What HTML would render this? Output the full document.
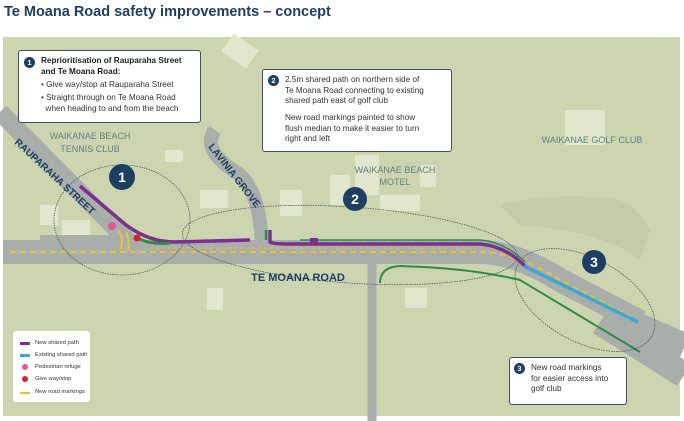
<!DOCTYPE html>
<html><head><style>
body{margin:0;width:684px;height:421px;background:#fff;overflow:hidden;font-family:"Liberation Sans",sans-serif}
.t{position:absolute;left:4px;top:4px;font-size:14.5px;font-weight:bold;color:#1d3f63}
svg{position:absolute;left:0;top:0}
.box{position:absolute;background:#fff;border:1px solid #3f5060;border-radius:3px;font-size:8.2px;color:#333;line-height:10.5px;box-sizing:border-box}
.n{display:inline-block;width:11px;height:11px;border-radius:50%;background:#1d3f63;color:#fff;font-weight:bold;font-size:7.5px;text-align:center;line-height:11px;position:absolute}
.lg{position:absolute;left:13px;top:331px;width:77px;height:71px;background:#fff;border-radius:3px;font-size:5.8px;color:#333}
.lg div{position:absolute;left:22px;white-space:nowrap;line-height:7px}
.lg span{position:absolute;left:-15px}
</style></head><body>
<div class="t">Te Moana Road safety improvements – concept</div>
<svg width="684" height="421" viewBox="0 0 684 421">
<rect x="3" y="37" width="677" height="379" fill="#cdd5b0"/>
<g fill="#e2e6cc">
<rect x="225" y="40" width="30" height="22" transform="rotate(35 240 51)"/>
<rect x="165" y="150" width="18" height="12"/>
<rect x="40" y="205" width="18" height="20"/>
<rect x="62" y="220" width="28" height="16"/>
<rect x="200" y="190" width="28" height="18"/>
<rect x="280" y="190" width="22" height="26"/>
<rect x="330" y="175" width="20" height="30"/>
<rect x="355" y="155" width="24" height="40"/>
<rect x="380" y="195" width="40" height="16"/>
<rect x="420" y="165" width="16" height="22"/>
<rect x="207" y="288" width="16" height="22"/>
<rect x="405" y="288" width="22" height="20"/>
<rect x="565" y="110" width="40" height="35"/>
</g>
<path d="M500,205 Q560,190 620,200 Q640,210 650,230 L640,260 Q600,230 520,225 Z" fill="#c3cba8"/>
<g fill="none" stroke="#a9aeab">
<path d="M0,112 L135,248" stroke-width="18"/>
<path d="M215,130 Q200,150 240,175 Q262,195 262,255" stroke-width="14"/>
<path d="M372,255 L372,421" stroke-width="9"/>
<path d="M3,252 L480,252 Q515,252 560,280 L640,322" stroke-width="24"/>
<path d="M620,320 L684,348" stroke-width="30"/>
<path d="M600,322 L684,375" stroke-width="26"/>
<path d="M40,238 L130,238" stroke-width="6"/>
</g>
<path d="M10,252 L480,252 Q515,252 560,280 L630,316" fill="none" stroke="#e8c23a" stroke-width="2" stroke-dasharray="6,4"/>
<path d="M150,248 L480,248" fill="none" stroke="#e8c23a" stroke-width="1.2" stroke-dasharray="3,3"/>
<path d="M80,186 L120,220 Q145,242 175,242 L250,240" fill="none" stroke="#7b2f8e" stroke-width="3.5"/>
<path d="M138,238 Q150,245 170,243" fill="none" stroke="#2e8b4a" stroke-width="3"/>
<path d="M270,230 L270,242 Q272,244 290,244 L480,244 Q505,246 525,266" fill="none" stroke="#7b2f8e" stroke-width="3.5"/>
<path d="M266,230 L266,240" fill="none" stroke="#2e8b4a" stroke-width="2.5"/>
<path d="M300,240 L480,240 Q505,242 525,262" fill="none" stroke="#2e8b4a" stroke-width="1.5"/>
<rect x="310" y="238" width="8" height="7" fill="#7b2f8e"/>
<path d="M524,266 L638,322" stroke="#3aa8d8" stroke-width="3.5"/>
<path d="M380,283 Q380,267 400,266 Q470,268 520,280 L640,352" fill="none" stroke="#2e8b4a" stroke-width="2"/>
<circle cx="112" cy="226" r="4" fill="#e4569e"/>
<circle cx="137" cy="238" r="3.5" fill="#d3232b"/>
<path d="M118,230 Q125,240 120,250 M126,232 Q130,240 128,250" stroke="#e8c23a" stroke-width="2" fill="none"/>
<g fill="none" stroke="#4a5a66" stroke-width="0.8" stroke-dasharray="1.5,1">
<ellipse cx="122" cy="220" rx="68" ry="55"/>
<ellipse cx="350" cy="245" rx="168" ry="38" transform="rotate(4 350 245)"/>
<ellipse cx="585" cy="300" rx="76" ry="42" transform="rotate(28 585 300)"/>
</g>
<g font-weight="bold" fill="#fff" text-anchor="middle" font-size="14">
<circle cx="122" cy="177" r="13" fill="#1d3f63"/><text x="122" y="182">1</text>
<circle cx="355" cy="199" r="12" fill="#1d3f63"/><text x="355" y="204">2</text>
<circle cx="594" cy="262" r="12" fill="#1d3f63"/><text x="594" y="267">3</text>
</g>
<g fill="#5f7f8a" font-size="9" text-anchor="middle">
<text x="90" y="139">WAIKANAE BEACH</text><text x="90" y="152">TENNIS CLUB</text>
<text x="395" y="173">WAIKANAE BEACH</text><text x="395" y="185">MOTEL</text>
<text x="592" y="143">WAIKANAE GOLF CLUB</text>
</g>
<text font-size="10" font-weight="bold" fill="#1d3f63" transform="translate(14,143) rotate(43)">RAUPARAHA STREET</text>
<text font-size="10" font-weight="bold" fill="#1d3f63" transform="translate(208,147) rotate(52)">LAVINIA GROVE</text>
<text x="298" y="281" font-size="11" font-weight="bold" fill="#1d3f63" text-anchor="middle">TE MOANA ROAD</text>
</svg>

<div class="box" style="left:18px;top:50px;width:183px;height:73px">
<span class="n" style="left:5px;top:6px">1</span>
<div style="position:absolute;left:22px;top:5px;font-weight:bold;color:#222">Reprioritisation of Rauparaha Street<br>and Te Moana Road:</div>
<div style="position:absolute;left:22px;top:29px">• Give way/stop at Rauparaha Street</div>
<div style="position:absolute;left:22px;top:42px">• Straight through on Te Moana Road<br>&nbsp;&nbsp;when heading to and from the beach</div>
</div>

<div class="box" style="left:262px;top:69px;width:190px;height:83px">
<span class="n" style="left:5px;top:5px">2</span>
<div style="position:absolute;left:22px;top:5px">2.5m shared path on northern side of<br>Te Moana Road connecting to existing<br>shared path east of golf club</div>
<div style="position:absolute;left:22px;top:43px">New road markings painted to show<br>flush median to make it easier to turn<br>right and left</div>
</div>

<div class="box" style="left:509px;top:357px;width:118px;height:48px">
<span class="n" style="left:4px;top:5px">3</span>
<div style="position:absolute;left:21px;top:5px">New road markings<br>for easier access into<br>golf club</div>
</div>

<div class="lg">
<div style="top:9px"><span style="top:2px;width:10px;height:3px;background:#7b2f8e"></span>New shared path</div>
<div style="top:21px"><span style="top:2px;width:10px;height:3px;background:#3aa8d8"></span>Existing shared path</div>
<div style="top:33px"><span style="left:-13px;top:0;width:6px;height:6px;border-radius:50%;background:#e4569e"></span>Pedestrian refuge</div>
<div style="top:45px"><span style="left:-13px;top:0;width:6px;height:6px;border-radius:50%;background:#d3232b"></span>Give way/stop</div>
<div style="top:58px"><span style="top:3px;width:10px;height:1.5px;background:#e8c23a"></span>New road markings</div>
</div>
</body></html>
